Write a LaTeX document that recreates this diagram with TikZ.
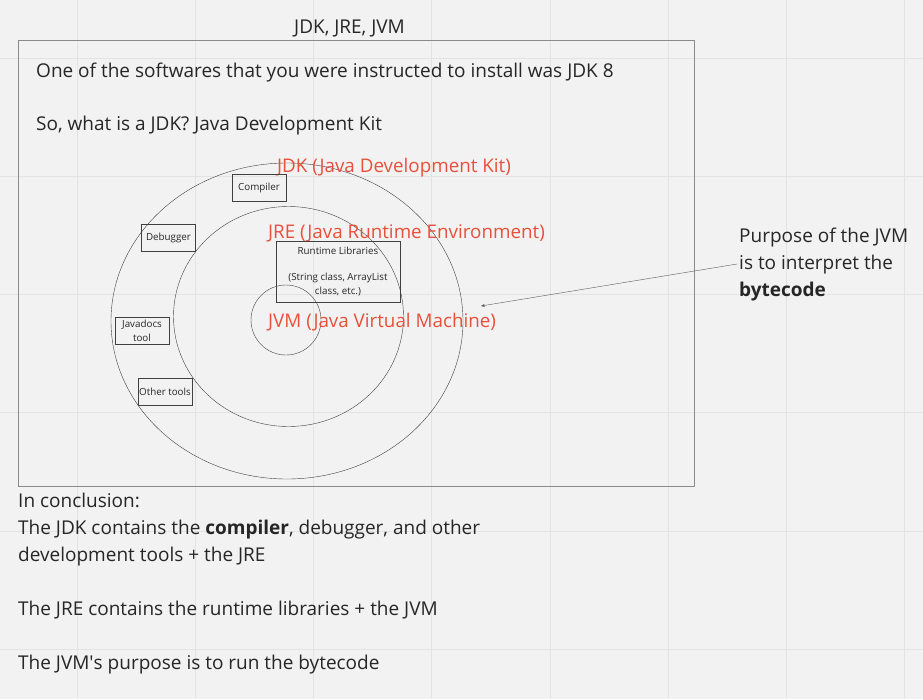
\documentclass[tikz,border=0pt]{standalone}
\usepackage{fontspec}
\setmainfont{Open Sans}
\usepackage{xcolor}
\usepackage{tikz}
\usetikzlibrary{arrows.meta, positioning}

\definecolor{boardbg}{HTML}{F2F2F2}
\definecolor{gridline}{HTML}{E3E3E3}
\definecolor{labelred}{HTML}{E8503A}
\definecolor{framegray}{HTML}{8A8A8A}

\begin{document}
\begin{tikzpicture}[
    x=1pt, y=-1pt,
    txt/.style={anchor=base west, inner sep=0pt, font=\fontsize{19}{27}\selectfont, text=black!85, align=left},
    redlabel/.style={anchor=base west, inner sep=0pt, font=\fontsize{18.8}{24}\selectfont, text=labelred},
    toolbox/.style={rectangle, draw=black!75, thin, inner sep=1pt, minimum width=54pt, minimum height=27pt, font=\fontsize{9.8}{14}\selectfont, text=black!85, align=center},
    ring/.style={draw=black!75, thin},
    arrow/.style={-{Stealth[length=4pt, width=3pt]}, draw=black!65, thin}
]

% board with grid
\useasboundingbox (0,0) rectangle (923,699);
\fill[boardbg] (0,0) rectangle (923,699);
\foreach \i in {0,...,7} \draw[gridline] ({77+118.2*\i},0) -- ++(0,699);
\foreach \j in {0,...,5} \draw[gridline] (0,{58+118.2*\j}) -- ++(923,0);

\node[txt] (title) at (294,33) {JDK, JRE, JVM};
\draw[framegray, semithick] (18,40) rectangle (694,486);

\node[txt] (intro) at (36,77) {One of the softwares that you were instructed to install was JDK 8};
\node[txt] (question) at (36,130) {So, what is a JDK? Java Development Kit};

% JDK / JRE / JVM rings
\draw[ring] (287,321) ellipse [x radius=176, y radius=158];
\draw[ring] (288.5,316.5) ellipse [x radius=115, y radius=110];
\draw[ring] (286,320) circle [radius=35];

\node[redlabel] (jdk) at (277,172) {JDK (Java Development Kit)};
\node[redlabel] (jre) at (268,238) {JRE (Java Runtime Environment)};
\node[redlabel] (jvm) at (268,327) {JVM (Java Virtual Machine)};

\node[toolbox] (compiler) at (259,187.5) {Compiler};
\node[toolbox] (debugger) at (168.5,238) {Debugger};
\node[toolbox] (javadocs) at (142,330.5) {Javadocs\\tool};
\node[toolbox] (othertools) at (165,391.5) {Other tools};
\node[toolbox, minimum width=124pt, minimum height=61pt] (runtime) at (338,271.5) {Runtime Libraries\\[12pt](String class, ArrayList\\class, etc.)};

% multi-line nodes sit on their last baseline
\node[txt] (purpose) at (739,296) {Purpose of the JVM\\is to interpret the\\\textbf{bytecode}};
\coordinate (jvmtip) at (481,306);
\draw[arrow] ([xshift=-2pt]purpose.west) -- (jvmtip);

\node[txt] (summary) at (18,669) {In conclusion:\\The JDK contains the \textbf{compiler}, debugger, and other\\development tools + the JRE\\[27pt]The JRE contains the runtime libraries + the JVM\\[27pt]The JVM\textquotesingle s purpose is to run the bytecode};

\end{tikzpicture}
\end{document}
